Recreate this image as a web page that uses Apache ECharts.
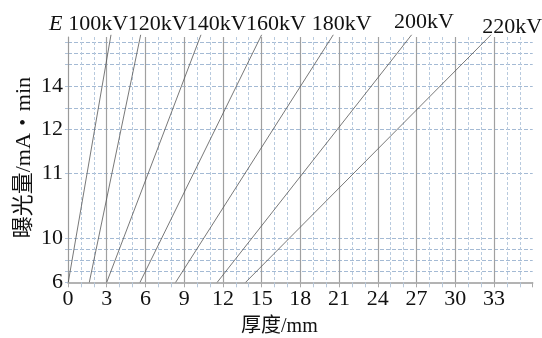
<!DOCTYPE html>
<html>
<head>
<meta charset="utf-8">
<script src="https://cdn.jsdelivr.net/npm/echarts@6/dist/echarts.min.js"></script>
<style>html,body{margin:0;padding:0;background:#fff}#c{width:542px;height:338px}</style>
</head>
<body>
<div id="c"></div>
<script>
// ---- data ----
const kvNames = ['100kV', '120kV', '140kV', '160kV', '180kV', '200kV', '220kV'];
// thickness (mm) where each line leaves the bottom ("6") and where it reaches the top of the chart
const thickBottom = [0.02, 1.65, 3.0, 5.58, 8.34, 11.56, 13.76];
const thickTop = [3.33, 5.63, 10.30, 15.0, 20.55, 26.62, 32.77];
// y axis is a non-uniform exposure scale: scale positions of grid lines and of labelled ticks
const yGridPos = [0, 1, 2, 3, 4, 10, 14, 16, 18, 20, 21, 22];
const yLabelPos = [0, 4, 10, 14, 18];
const yLabelText = ['6', '10', '11', '12', '14'];
const yBottom = 0, yTop = 22.7, yMax = 22.5;
const xTickLabels = [0, 3, 6, 9, 12, 15, 18, 21, 24, 27, 30, 33];

const serif = '"Liberation Serif", "Times New Roman", serif';
const series = kvNames.map((n, i) => ({
  name: n,
  type: 'line',
  data: [[thickBottom[i], yBottom], [thickTop[i], yTop]],
  symbol: 'none',
  clip: false,
  lineStyle: { color: '#555', width: 0.8 },
  silent: true,
  z: 5
}));

const labelX = [68.3, 127.7, 186.7, 246, 311.7, 394, 482.3];
const labelY = [24, 24, 24, 24, 24, 22.5, 27.5];
const graphics = [{
  type: 'text', x: 49, y: 24,
  style: { text: 'E', font: 'italic 22px ' + serif, fill: '#111', verticalAlign: 'middle' }
}];
kvNames.forEach((n, i) => graphics.push({
  type: 'text', x: labelX[i], y: labelY[i],
  style: { text: n, font: '22px ' + serif, fill: '#111', verticalAlign: 'middle', align: 'left' }
}));

const chart = echarts.init(document.getElementById('c'), null, { renderer: 'canvas' });
chart.setOption({
  animation: false,
  backgroundColor: '#fff',
  grid: { left: 68, right: 9.3, top: 37, bottom: 55.7, containLabel: false, outerBoundsMode: 'none' },
  xAxis: {
    type: 'value', min: 0, max: 36, interval: 3,
    name: '厚度/mm', nameLocation: 'middle', nameGap: 34,
    nameTextStyle: { fontFamily: serif + ', "Noto Sans CJK SC"', fontSize: 20, color: '#111', padding: [0, 42, 0, 0] },
    axisLine: { show: true, onZero: false, lineStyle: { color: '#9a9a9a', width: 1.5 } },
    axisTick: { show: true, length: 5, lineStyle: { color: '#aaa' } },
    minorTick: { show: true, splitNumber: 3, length: 5, lineStyle: { color: '#b8c8da' } },
    axisLabel: {
      fontFamily: serif, fontSize: 22, color: '#111', margin: 6,
      formatter: v => (xTickLabels.indexOf(v) >= 0 ? String(v) : '')
    },
    splitLine: { show: true, showMinLine: false, showMaxLine: false, lineStyle: { color: '#a0a0a0', width: 1.2 } },
    minorSplitLine: { show: true, lineStyle: { color: '#b8cade', width: 1, type: [3, 2] } }
  },
  yAxis: {
    type: 'value', min: 0, max: yMax,
    name: '曝光量/mA・min', nameLocation: 'middle', nameGap: 33, nameRotate: 90, nameMoveOverlap: false,
    nameTextStyle: { fontFamily: serif + ', "Noto Sans CJK SC"', fontSize: 22, color: '#111', padding: [0, 0, 0, 4] },
    axisLine: { show: true, lineStyle: { color: '#9a9a9a', width: 1.2 } },
    axisTick: { show: true, length: 3, customValues: yGridPos, lineStyle: { color: '#b0c2d8' } },
    axisLabel: {
      fontFamily: serif, fontSize: 22, color: '#111', margin: 5,
      customValues: yLabelPos,
      formatter: v => { const k = yLabelPos.indexOf(v); return k >= 0 ? yLabelText[k] : ''; }
    },
    splitLine: { show: true, showMinLine: false, lineStyle: { color: '#a4bad4', width: 1, type: [4, 2] } }
  },
  series: series,
  graphic: graphics
});
</script>
</body>
</html>
